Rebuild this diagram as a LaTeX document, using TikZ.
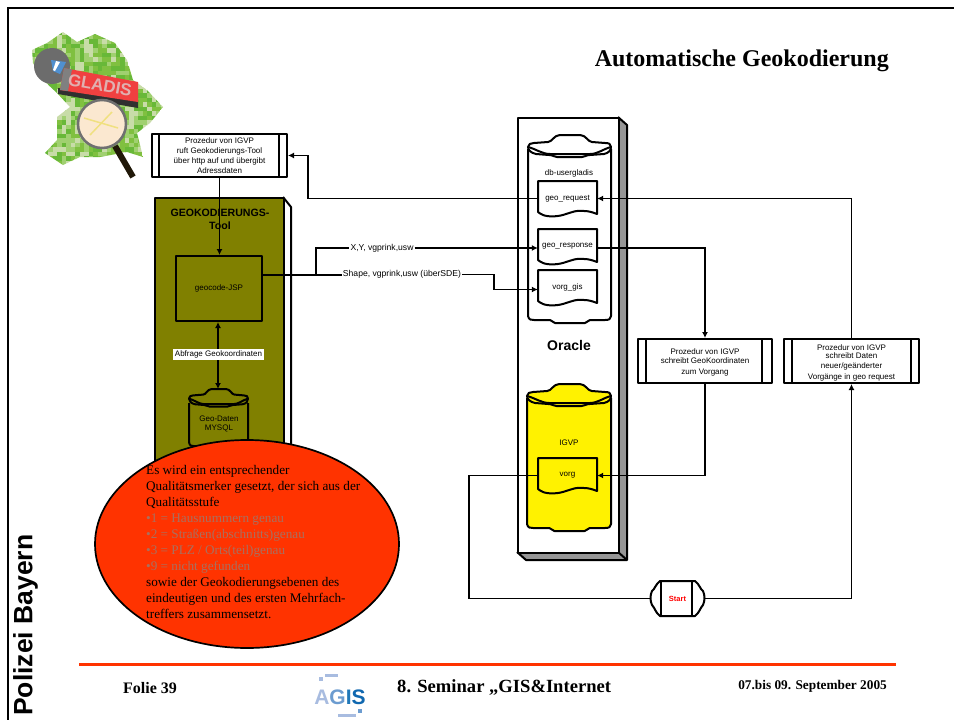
\documentclass[tikz,border=0pt]{standalone}
\usepackage{fontspec}
\setmainfont{Liberation Serif}
\setsansfont{Liberation Sans}
\usetikzlibrary{arrows.meta,calc,shapes.geometric}
\definecolor{oliveb}{HTML}{808000}
\definecolor{panelgray}{HTML}{969696}
\definecolor{redor}{HTML}{FF3300}
\definecolor{lgA}{HTML}{80C040}
\definecolor{lgB}{HTML}{A0D070}
\definecolor{lgC}{HTML}{C8DCA8}
\definecolor{lgD}{HTML}{68B838}
\definecolor{lgblue}{HTML}{5090D0}
\definecolor{lgdark}{HTML}{303030}
\definecolor{lgred}{HTML}{F04040}
\definecolor{lghand}{HTML}{201808}
\definecolor{lglens}{HTML}{FBE8D0}
\definecolor{lglens2}{HTML}{F0E080}
\definecolor{lgring}{HTML}{707070}
\definecolor{lgtext}{HTML}{E0B0B0}
\definecolor{agA}{HTML}{A8BCE0}
\definecolor{agB}{HTML}{6C9CD0}
\definecolor{agC}{HTML}{2078B8}
\definecolor{agD}{HTML}{1068B0}
\definecolor{bullet}{HTML}{A87060}
\tikzset{
  ln/.style={draw=black,line width=2pt,line join=round},
  conn/.style={draw=black,line width=1.9pt,line join=miter},
  arr/.style={conn,-{Latex[length=6pt,width=6pt]}},
  darr/.style={conn,{Latex[length=6pt,width=6pt]}-{Latex[length=6pt,width=6pt]}},
  lab/.style={font=\sffamily\fontsize{8}{9.6}\selectfont,align=center,inner sep=0pt,text=black},
  flow/.style={lab,font=\sffamily\fontsize{8.6}{10}\selectfont,fill=white,inner ysep=1pt,inner xsep=1pt},
}
\newcommand\procbox[8]{% name,x,y,w,h,insetL,insetR,text
  \node[ln,fill=white,minimum width=#4pt,minimum height=#5pt,lab,anchor=north west] (#1) at (#2,#3) {#8};
  \draw[ln] ($(#1.north west)+(#6,0)$) -- ($(#1.south west)+(#6,0)$);
  \draw[ln] ($(#1.north east)-(#7,0)$) -- ($(#1.south east)-(#7,0)$);
}
\newcommand\docshape[5]{% name,x,y,fill,text
  \begin{scope}[shift={(#2,#3)}]
    \draw[ln,fill=#4] (0,0) -- (59,0) -- (59,33) .. controls (54,31) and (50,30) .. (46,30)
      .. controls (38,29) and (35,31) .. (28,33) .. controls (20,36) and (10,36) .. (5,34)
      .. controls (3,33) and (1,32) .. (0,31) -- cycle;
    \node[lab,minimum width=59pt,minimum height=35pt] (#1) at (29.5,17.5) {#5};
  \end{scope}
}
\newcommand\cyl[7]{% name,x,y,w,h,fill,head scale
  \begin{scope}[shift={(#2,#3)}]
    \begin{scope}[xscale=#4/83]
      \draw[ln,fill=#6] (0,14) -- (0,#5-7) .. controls (1,#5-3) and (3,#5-3) .. (6,#5-3)
        -- (22,#5-3) -- (27,#5) -- (57,#5) -- (62,#5-3) -- (77,#5-3) .. controls (81,#5-3) and (83,#5-4) .. (83,#5-7) -- (83,14);
      \begin{scope}[yscale=#7]
        \draw[ln,fill=#6] (0,12) .. controls (0,9) and (3,8) .. (6,8) -- (20,7) .. controls (24,7) and (26,0) .. (32,0)
          -- (52,0) .. controls (58,0) and (60,7) .. (64,7) -- (77,8) .. controls (81,8) and (83,9) .. (83,12)
          .. controls (83,15) and (81,18) .. (76,19) -- (62,20) .. controls (58,20) and (57,22) .. (54,22)
          -- (29,22) .. controls (26,22) and (25,20) .. (21,20) -- (8,19) .. controls (3,18) and (0,15) .. (0,12) -- cycle;
        \draw[ln] (0,12) .. controls (8,14) and (14,19) .. (22,19) -- (62,19) .. controls (70,19) and (75,14) .. (83,12);
      \end{scope}
    \end{scope}
    \coordinate (#1) at (#4/2,#5/2);
  \end{scope}
}
\begin{document}
\begin{tikzpicture}[x=1pt,y=-1pt]
\useasboundingbox (0,0) rectangle (954,720);
\fill[white] (0,0) rectangle (954,720);
% slide frame
\draw[line width=2pt,draw=black] (7.5,720) -- (7.5,7.5) -- (954,7.5);
% ---------- logo
\begin{scope}
  \clip (32,50) -- (47,43) -- (63,32) -- (77,42) -- (95,34) -- (115,43) -- (127,60) -- (133,80) -- (147,90)
    -- (163,107) -- (150,123) -- (137,133) -- (143,157) -- (127,152) -- (100,157) -- (80,157) -- (63,165)
    -- (45,153) -- (57,140) -- (57,117) -- (70,107) -- (57,93) -- (43,80) -- (33,63) -- cycle;
  \pgfmathsetseed{7}
  \foreach \i in {0,...,29}{\foreach \j in {0,...,30}{
    \pgfmathtruncatemacro\r{random(1,4)}
    \ifcase\r\or\def\cc{lgA}\or\def\cc{lgB}\or\def\cc{lgC}\or\def\cc{lgD}\fi
    \fill[\cc] (30+\i*4.5,30+\j*4.5) rectangle ++(4.6,4.6);
  }}
\end{scope}
\fill[gray!85!black] (52,66) circle (18);
\fill[lgblue] (51,60) -- (66,62) -- (60,74) -- (53,71) -- cycle;
\fill[white] (56,61) -- (60,62) -- (55,71) -- (53,70) -- cycle;
\fill[lgdark] (58,88) -- (138,100) -- (138,108) -- (58,94) -- cycle;
\fill[lgred] (64,68) -- (138,82) -- (138,102) -- (60,90) -- cycle;
\fill[gray] (64,68) -- (72,69.5) -- (68,91) -- (60,90) -- cycle;
\node[rotate=-10,font=\sffamily\bfseries\fontsize{17}{17}\selectfont,text=lgtext,inner sep=0pt] (gladis) at (100,85) {GLADIS};
\draw[line width=6pt,lghand] (115,146) -- (133,177);
\fill[lglens] (102,124) circle (24);
\draw[lglens2,line width=1.5pt] (84,118) -- (118,128);
\draw[lglens2,line width=1.5pt] (90,135) -- (112,112);
\draw[line width=2.5pt,lgring] (102,124) circle (24);
% ---------- left panel
\draw[ln,fill=white] (283,197) -- (291,207) -- (291,465) -- (283,465);
\node[ln,fill=oliveb,minimum width=129pt,minimum height=268pt,inner sep=0pt,anchor=north west] (tool) at (154,197) {};
\node[font=\sffamily\bfseries\fontsize{10.6}{13}\selectfont,align=center,inner sep=0pt] (tooltitle) at (220,219) {GEOKODIERUNGS-\\Tool};
\node[ln,fill=oliveb,minimum width=86pt,minimum height=65pt,lab,anchor=north west] (jsp) at (175,255) {geocode-JSP};
\cyl{mysql}{189}{389}{59}{60}{oliveb}{0.8}
\node[lab] (mysqllab) at (219,424) {Geo-Daten\\MYSQL};
\procbox{box1}{151}{133}{135}{43}{8}{9}{Prozedur von IGVP\\ruft Geokodierungs-Tool\\[1pt]über http auf und übergibt\\Adressdaten}
% ---------- oracle panel
\fill[panelgray] (618,117) -- (627,125) -- (627,560) -- (526,560) -- (517,552) -- (618,552) -- cycle;
\draw[ln] (618,117) -- (627,125) -- (627,560) -- (526,560) -- (517,552);
\draw[ln] (618,552) -- (627,560);
\node[ln,fill=white,minimum width=101pt,minimum height=435pt,inner sep=0pt,anchor=north west] (oracle) at (517,117) {};
\cyl{db1}{528}{135}{83}{188}{white}{1}
\node[lab] (dbname) at (569,173) {db-usergladis};
\docshape{georeq}{538}{181}{white}{geo\_request}
\docshape{georesp}{538}{229}{white}{geo\_response}
\docshape{vorggis}{538}{270}{white}{vorg\_gis}
\node[font=\sffamily\bfseries\fontsize{14}{14}\selectfont,inner sep=0pt] (oraclelab) at (569,345) {Oracle};
\cyl{db2}{527}{384}{84}{147}{yellow}{1}
\node[lab] (igvp) at (569,443) {IGVP};
\docshape{vorg}{538}{458}{yellow}{vorg}
% ---------- process boxes
\procbox{proc3}{637}{338}{134}{44}{9}{11}{\rule{0pt}{8.5pt}Prozedur von IGVP\\schreibt GeoKoordinaten\\[1pt]zum Vorgang}
\procbox{proc4}{783}{338}{135}{44}{9}{9}{\rule{0pt}{9.5pt}Prozedur von IGVP\\[-1.6pt]schreibt Daten\\[0.4pt]neuer/geänderter\\[1.4pt]Vorgänge in geo request}
% start
\begin{scope}[shift={(650,581)}]
  \draw[ln,fill=white] (10,0) -- (45,0) .. controls (50,4) and (50,8) .. (53,10) .. controls (55,14) and (55,20) .. (53,24)
     .. controls (50,27) and (50,31) .. (45,35) -- (10,35) .. controls (5,31) and (5,27) .. (2,24) .. controls (0,20) and (0,14) .. (2,10) .. controls (5,8) and (5,4) .. (10,0) -- cycle;
  \draw[ln] (11,0) -- (11,35);
  \draw[ln] (42,0) -- (42,35);
  \node[lab,font=\sffamily\bfseries\fontsize{7.5}{9}\selectfont,text=red,minimum width=55pt,minimum height=35pt] (start) at (27.5,17.5) {Start};
\end{scope}
% ---------- connectors
\coordinate (jn) at (316,275);
\coordinate (lane) at (469,540);
\coordinate (abfpt) at (218,389);
\node[flow] (xy) at (382,248) {X,Y, vgprink,usw};
\node[flow] (shape) at (402,274.5) {Shape, vgprink,usw (überSDE)};
\draw[arr] (box1.south) -- (jsp.north -| box1.south);
\draw[conn] (jsp.east |- jn) -- (jn);
\draw[conn] (jn) |- (xy.west);
\draw[conn] (jn) -- (shape.west |- jn);
\draw[arr] (xy.east) -- (georesp.west |- xy);
\draw[arr] (shape.east) -- ++(32,0) |- ($(vorggis.west)+(0,2)$);
\draw[darr] (jsp.south -| abfpt) -- (abfpt);
\node[flow,font=\sffamily\fontsize{8}{9.6}\selectfont,minimum width=91pt,minimum height=11pt] (abf) at (218.5,354.5) {Abfrage Geokoordinaten};
\draw[arr] (georeq.west) -| ($(box1.east)+(20,0)$) -- (box1.east);
\draw[arr] (proc4.north) |- (georeq.east);
\draw[arr] (georesp.east |- xy) -| (proc3.north);
\draw[arr] (proc3.south) |- (vorg.east);
\draw[conn] (vorg.west) -| (lane) |- (start.west);
\draw[arr] (start.east) -| (proc4.south);
% ---------- ellipse
\node[draw=black,line width=1.7pt,fill=redor,ellipse,minimum width=304pt,minimum height=208pt,inner sep=0pt] (qual) at (247,544) {};
\node[anchor=north west,inner sep=0pt,align=left,font=\fontsize{13.2}{16}\selectfont] (qualtext) at (146,465.5) {Es wird ein entsprechender\\
Qualitätsmerker gesetzt, der sich aus der\\
Qualitätsstufe\\
\textcolor{bullet}{•1 = Hausnummern genau}\\
\textcolor{bullet}{•2 = Straßen(abschnitts)genau}\\
\textcolor{bullet}{•3 = PLZ / Orts(teil)genau}\\
\textcolor{bullet}{•9 = nicht gefunden}\\
sowie der Geokodierungsebenen des\\
eindeutigen und des ersten Mehrfach-\\
treffers zusammensetzt.};
% ---------- title and footer
\node[font=\bfseries\fontsize{24}{24}\selectfont,anchor=east,inner sep=0pt] (title) at (889,61) {Automatische Geokodierung};
\node[font=\sffamily\bfseries\fontsize{26.5}{26.5}\selectfont,rotate=90,anchor=west,inner sep=0pt] (pol) at (25.5,716) {Polizei Bayern};
\draw[redor,line width=3pt] (79,664) -- (896,664);
\node[font=\bfseries\fontsize{16}{16}\selectfont,anchor=west,inner sep=0pt] (folie) at (123,688) {Folie 39};
\node[font=\bfseries\fontsize{18.6}{18.6}\selectfont,anchor=west,inner sep=0pt] (sem) at (397,687) {8. Seminar „GIS\&Internet};
\node[font=\bfseries\fontsize{13.3}{13.3}\selectfont,anchor=east,inner sep=0pt] (dat) at (887,686) {07.bis 09. September 2005};
\node[font=\sffamily\bfseries\fontsize{21}{21}\selectfont,inner sep=0pt] (agis) at (340,697) {\textcolor{agA}{A}\textcolor{agB}{G}\textcolor{agC}{I}\textcolor{agD}{S}};
\fill[agA] (319,677) rectangle (323,681);
\fill[agA] (325,674) rectangle (338,677);
\fill[agA] (338,714) rectangle (356,717);
\fill[agB] (358,709) rectangle (362,713);
\end{tikzpicture}
\end{document}
